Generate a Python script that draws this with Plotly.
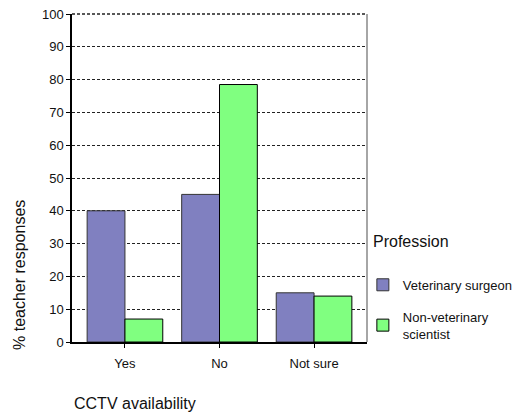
import plotly.graph_objects as go

categories = ["Yes", "No", "Not sure"]
vet_surgeon = [40, 45, 15]
non_vet_scientist = [7, 78.5, 14]
y_ticks = [0, 10, 20, 30, 40, 50, 60, 70, 80, 90, 100]

fig = go.Figure()
fig.add_trace(go.Bar(
  x=categories, y=vet_surgeon, name="Veterinary surgeon",
  marker=dict(color="#8080C0", line=dict(color="#333333", width=1)),
  legendgroup="a"))
fig.add_trace(go.Bar(
  x=categories, y=non_vet_scientist, name="Non-veterinary<br>scientist",
  marker=dict(color="#80FF80", line=dict(color="#000000", width=1)),
  legendgroup="b"))

# axis titles and legend heading placed as free text like the original
fig.add_annotation(text="CCTV availability", xref="paper", yref="paper",
  x=0, y=-0.186, xanchor="left", yanchor="middle", showarrow=False,
  font=dict(size=16, color="#111111"))
fig.add_annotation(text="% teacher responses", xref="paper", yref="paper",
  x=-0.18, y=0.204, xanchor="center", yanchor="middle", textangle=-90,
  showarrow=False, font=dict(size=16, color="#111111"))
fig.add_annotation(text="Profession", xref="paper", yref="paper",
  x=1.012, y=0.305, xanchor="left", yanchor="middle", showarrow=False,
  font=dict(size=16, color="#111111"))

# the page body adds 8px, so the figure is 8px smaller
fig.update_layout(
  width=516, height=409,
  margin=dict(l=64, r=157, t=6, b=75, autoexpand=False),
  paper_bgcolor="white", plot_bgcolor="white",
  font=dict(family="Liberation Sans, Arial", size=13, color="#111111"),
  barmode="group", bargap=0.2, bargroupgap=0,
  showlegend=True,
  legend=dict(x=0.986, xanchor="left", y=0.22, yanchor="top",
    bgcolor="rgba(0,0,0,0)",
    font=dict(size=13), tracegroupgap=12, itemwidth=30),
  xaxis=dict(range=[-0.56, 2.56], showline=True, linecolor="black", linewidth=1.5,
    ticks="outside", ticklen=4, tickcolor="black", showgrid=False,
    ticklabelstandoff=5, automargin=False),
  yaxis=dict(range=[0, 100], tickvals=y_ticks, showline=True, linecolor="black",
    linewidth=1.5, ticks="outside", ticklen=4, tickcolor="black",
    showgrid=True, gridcolor="#222222", griddash="3px,2px", gridwidth=1,
    zeroline=False, automargin=False, ticklabeloverflow="allow"),
)
# top dashed frame line and grey right edge
fig.add_shape(type="line", xref="paper", yref="paper", x0=0, x1=1, y0=1, y1=1,
  line=dict(color="#222222", width=1.5, dash="3px,2px"))
fig.add_shape(type="line", xref="paper", yref="paper", x0=1, x1=1, y0=0, y1=1,
  line=dict(color="#888888", width=1.5))
fig.write_html("out.html")
